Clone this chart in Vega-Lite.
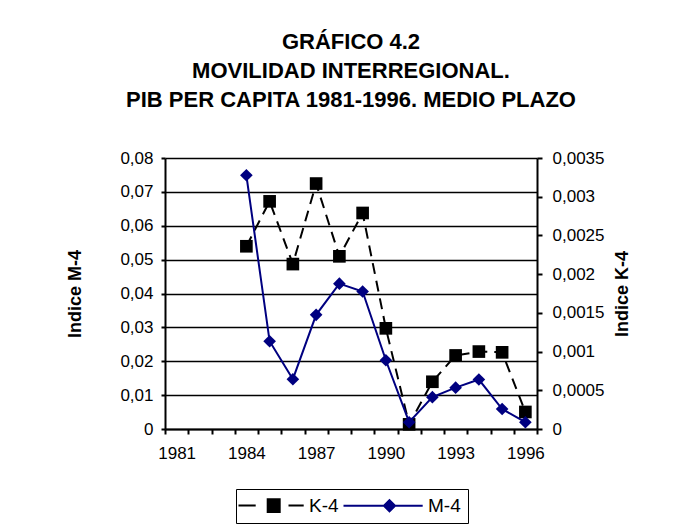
{
  "$schema": "https://vega.github.io/schema/vega-lite/v6.json",
  "width": 372,
  "height": 271,
  "autosize": {"type": "none"},
  "padding": {"left": 165, "top": 158, "right": 147, "bottom": 95},
  "background": "white",
  "title": {
    "text": ["GRÁFICO 4.2", "MOVILIDAD INTERREGIONAL.", "PIB PER CAPITA 1981-1996. MEDIO PLAZO"],
    "font": "Liberation Sans",
    "fontSize": 22,
    "fontWeight": "bold",
    "color": "black",
    "lineHeight": 29,
    "anchor": "middle",
    "frame": "group",
    "baseline": "bottom",
    "offset": 15
  },
  "data": {
    "values": [
      {"year": 1984, "series": "K-4", "value": 0.00236},
      {"year": 1985, "series": "K-4", "value": 0.00294},
      {"year": 1986, "series": "K-4", "value": 0.00213},
      {"year": 1987, "series": "K-4", "value": 0.00317},
      {"year": 1988, "series": "K-4", "value": 0.00223},
      {"year": 1989, "series": "K-4", "value": 0.00279},
      {"year": 1990, "series": "K-4", "value": 0.0013},
      {"year": 1991, "series": "K-4", "value": 0.00006},
      {"year": 1992, "series": "K-4", "value": 0.00061},
      {"year": 1993, "series": "K-4", "value": 0.00095},
      {"year": 1994, "series": "K-4", "value": 0.001},
      {"year": 1995, "series": "K-4", "value": 0.00099},
      {"year": 1996, "series": "K-4", "value": 0.00022},
      {"year": 1984, "series": "M-4", "value": 0.0749},
      {"year": 1985, "series": "M-4", "value": 0.0259},
      {"year": 1986, "series": "M-4", "value": 0.0147},
      {"year": 1987, "series": "M-4", "value": 0.0337},
      {"year": 1988, "series": "M-4", "value": 0.0429},
      {"year": 1989, "series": "M-4", "value": 0.0406},
      {"year": 1990, "series": "M-4", "value": 0.0203},
      {"year": 1991, "series": "M-4", "value": 0.002},
      {"year": 1992, "series": "M-4", "value": 0.0094},
      {"year": 1993, "series": "M-4", "value": 0.0122},
      {"year": 1994, "series": "M-4", "value": 0.0146},
      {"year": 1995, "series": "M-4", "value": 0.0059},
      {"year": 1996, "series": "M-4", "value": 0.002}
    ]
  },
  "encoding": {
    "x": {
      "field": "year",
      "type": "ordinal",
      "bandPosition": 0.5,
      "scale": {
        "type": "band",
        "domain": [1981, 1982, 1983, 1984, 1985, 1986, 1987, 1988, 1989, 1990, 1991, 1992, 1993, 1994, 1995, 1996],
        "paddingInner": 0,
        "paddingOuter": 0
      },
      "axis": {
        "title": null,
        "labelAngle": 0,
        "tickBand": "extent",
        "labelExpr": "(datum.value - 1981) % 3 == 0 ? datum.label : ''",
        "tickSize": 5,
        "labelPadding": 11,
        "grid": false
      }
    }
  },
  "layer": [
    {
      "transform": [{"filter": "datum.series === 'K-4'"}],
      "encoding": {
        "y": {
          "field": "value",
          "type": "quantitative",
          "scale": {"domain": [0, 0.0035], "nice": false, "zero": true},
          "axis": {
            "orient": "right",
            "title": "Indice K-4",
            "titleAngle": 270,
            "titleBaseline": "top",
            "titlePadding": 10,
            "values": [0, 0.0005, 0.001, 0.0015, 0.002, 0.0025, 0.003, 0.0035],
            "format": ".4~f",
            "labelExpr": "replace(datum.label, '.', ',')",
            "grid": false,
            "tickSize": 5,
            "labelPadding": 10
          }
        }
      },
      "layer": [
        {
          "mark": {"type": "line", "strokeWidth": 2, "strokeDash": [11, 7]},
          "encoding": {
            "color": {
              "field": "series",
              "type": "nominal",
              "scale": {"domain": ["K-4", "M-4"], "range": ["black", "#000080"]},
              "legend": {
                "title": null,
                "orient": "none",
                "legendX": 71,
                "legendY": 331,
                "direction": "horizontal",
                "strokeColor": "black",
                "fillColor": "white",
                "padding": 7,
                "symbolSize": 256,
                "labelOffset": 47,
                "columnPadding": 0,
                "labelFont": "Liberation Sans",
                "labelFontSize": 19,
                "labelColor": "black",
                "encode": {
                  "symbols": {
                    "update": {
                      "shape": {"signal": "datum.value === 'K-4' ? 'M-1.75,0H0.4M4.5,0H6.4M1.9,-0.8H3.4V0.8H1.9Z' : 'M-3.5,0H6.4M2.25,-0.7L2.95,0L2.25,0.7L1.55,0Z'"},
                      "fill": {"signal": "datum.value === 'K-4' ? 'black' : '#000080'"},
                      "stroke": {"signal": "datum.value === 'K-4' ? 'black' : '#000080'"},
                      "strokeWidth": {"value": 2},
                      "strokeDash": {"value": []},
                      "opacity": {"value": 1},
                      "fillOpacity": {"value": 1},
                      "strokeOpacity": {"value": 1}
                    }
                  }
                }
              }
            }
          }
        },
        {
          "mark": {"type": "point", "shape": "square", "filled": true, "size": 160, "opacity": 1},
          "encoding": {
            "color": {
              "field": "series",
              "type": "nominal",
              "scale": {"domain": ["K-4", "M-4"], "range": ["black", "#000080"]}
            }
          }
        }
      ]
    },
    {
      "transform": [{"filter": "datum.series === 'M-4'"}],
      "encoding": {
        "y": {
          "field": "value",
          "type": "quantitative",
          "scale": {"domain": [0, 0.08], "nice": false, "zero": true},
          "axis": {
            "orient": "left",
            "title": "Indice M-4",
            "titleAngle": 270,
            "titleBaseline": "bottom",
            "titlePadding": 35,
            "values": [0, 0.01, 0.02, 0.03, 0.04, 0.05, 0.06, 0.07, 0.08],
            "format": ".2~f",
            "labelExpr": "replace(datum.label, '.', ',')",
            "grid": true,
            "tickSize": 4,
            "labelPadding": 8
          }
        }
      },
      "layer": [
        {
          "mark": {"type": "line", "strokeWidth": 2},
          "encoding": {
            "color": {
              "field": "series",
              "type": "nominal",
              "scale": {"domain": ["K-4", "M-4"], "range": ["black", "#000080"]}
            }
          }
        },
        {
          "mark": {"type": "point", "shape": "diamond", "filled": true, "size": 160, "opacity": 1},
          "encoding": {
            "color": {
              "field": "series",
              "type": "nominal",
              "scale": {"domain": ["K-4", "M-4"], "range": ["black", "#000080"]}
            }
          }
        }
      ]
    }
  ],
  "resolve": {"scale": {"y": "independent"}},
  "config": {
    "font": "Liberation Sans",
    "view": {"stroke": null},
    "axis": {
      "labelFont": "Liberation Sans",
      "labelFontSize": 17,
      "labelColor": "black",
      "domainColor": "black",
      "domainWidth": 2,
      "tickColor": "black",
      "tickWidth": 2,
      "titleColor": "black",
      "titleFont": "Liberation Sans",
      "titleFontSize": 18,
      "titleFontWeight": "bold",
      "gridColor": "black",
      "gridWidth": 1.5,
      "gridOpacity": 1
    }
  }
}
